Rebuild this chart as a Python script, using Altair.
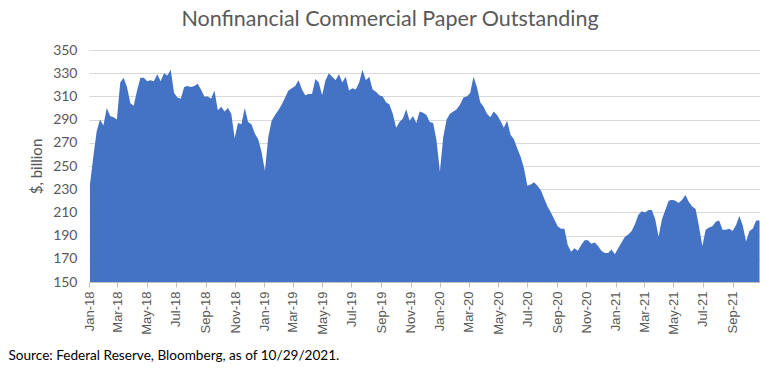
import altair as alt
import pandas as pd

chart_title = "Nonfinancial Commercial Paper Outstanding"
source_note = "Source: Federal Reserve, Bloomberg, as of 10/29/2021."
y_title = "$, billion"
first_week = "2018-01-03"

values_2018 = [234, 258, 280, 290, 285, 300, 293, 292, 290, 322, 326, 318, 304,
               302, 315, 326, 326, 323, 324, 323, 329, 323, 330, 328, 333, 313,
               309, 308, 318, 319, 318, 319, 321, 316, 310, 310, 308, 315, 298,
               301, 297, 300, 295, 274, 287, 286, 300, 288, 286, 278, 273, 262]
values_2019 = [246, 275, 289, 294, 298, 303, 309, 315, 317, 319, 324, 316, 311,
               312, 312, 325, 322, 311, 324, 330, 327, 324, 329, 322, 327, 315,
               317, 316, 322, 333, 324, 327, 316, 314, 311, 310, 305, 303, 295,
               283, 288, 291, 299, 289, 293, 287, 297, 296, 294, 288, 287, 272]
values_2020 = [245, 275, 290, 295, 297, 299, 303, 309, 310, 313, 327, 318, 305,
               301, 295, 292, 297, 294, 289, 283, 289, 277, 273, 265, 258, 248,
               233, 234, 236, 233, 229, 222, 215, 210, 204, 198, 196, 196, 182,
               176, 179, 177, 182, 186, 186, 183, 184, 181, 177, 175, 175, 178,
               174]
values_2021 = [179, 184, 189, 191, 194, 200, 208, 211, 210, 212, 212, 204, 189,
               204, 212, 220, 221, 220, 218, 221, 225, 219, 215, 213, 198, 181,
               195, 197, 198, 202, 203, 195, 195, 196, 194, 199, 207, 199, 185,
               194, 196, 203, 203]

y_ticks = [150, 170, 190, 210, 230, 250, 270, 290, 310, 330, 350]
x_tick_years = [2018] * 6 + [2019] * 6 + [2020] * 6 + [2021] * 5
x_tick_months = [1, 3, 5, 7, 9, 11] * 3 + [1, 3, 5, 7, 9]

values = values_2018 + values_2019 + values_2020 + values_2021
dates = pd.date_range(first_week, periods=len(values), freq="7D")
df = pd.DataFrame({"date": dates, "value": values})

tick_values = [alt.DateTime(year=y, month=m, date=1)
               for y, m in zip(x_tick_years, x_tick_months)]

area = alt.Chart(df).mark_area(color="#4472C4", opacity=1, clip=True).encode(
    x=alt.X(
        "date:T",
        scale=alt.Scale(domain=[alt.DateTime(year=2018, month=1, date=1),
                                alt.DateTime(year=2021, month=10, date=28)],
                        nice=False),
        axis=alt.Axis(
            values=tick_values, format="%b-%y", labelAngle=-90,
            labelAlign="right", labelBaseline="middle",
            labelFont="Liberation Sans", labelFontSize=13,
            labelColor="#595959", labelPadding=4, labelOverlap=False,
            labelFlush=False,
            tickColor="#bfbfbf", tickSize=5, domainColor="#bfbfbf",
            grid=False,
            title=source_note, titleFont="Lato", titleFontSize=13.6,
            titleFontWeight="normal", titleColor="#000000",
            titleAnchor="start", titleAlign="left", titleBaseline="alphabetic",
            titleX=-81, titleY=77,
        ),
    ),
    y=alt.Y(
        "value:Q",
        scale=alt.Scale(domain=[150, 350], nice=False, zero=False),
        axis=alt.Axis(
            values=y_ticks, grid=True, gridColor="#d9d9d9", gridWidth=1,
            domain=False, ticks=False, labelPadding=12,
            labelFont="Lato", labelFontSize=14, labelColor="#595959",
            title=y_title, titleFont="Lato", titleFontSize=15,
            titleFontWeight="normal", titleColor="#595959", titlePadding=8,
        ),
    ),
)

title_df = pd.DataFrame({"t": [chart_title]})
title_mark = alt.Chart(title_df).mark_text(
    font="Lato", fontSize=21.5, color="#595959", align="center",
    baseline="alphabetic",
).encode(text="t:N", x=alt.value(301), y=alt.value(-24))

chart = alt.layer(area, title_mark).properties(
    width=671, height=232,
    autosize="none",
    padding={"left": 81, "top": 42, "right": 0, "bottom": 80},
).configure_view(stroke=None)

chart.save("out.html", embed_options={"renderer": "svg", "actions": False})
